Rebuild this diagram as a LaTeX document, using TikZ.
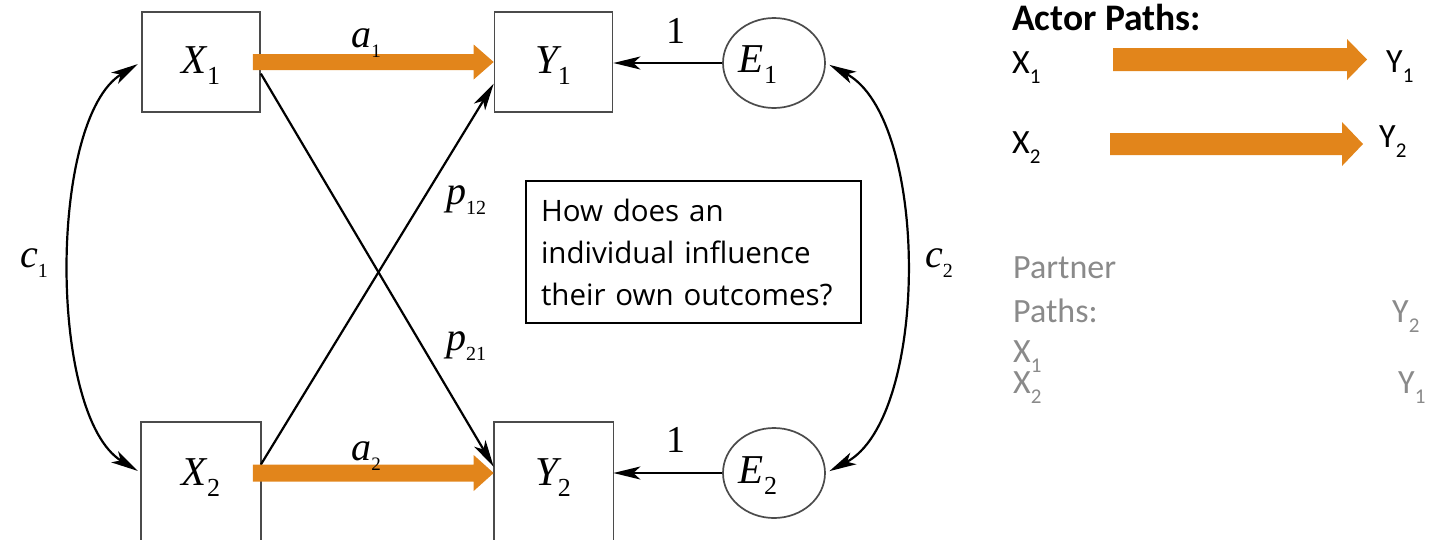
\documentclass[tikz,border=0pt]{standalone}
\usepackage{fontspec}
\setmainfont{Liberation Serif}
\newfontfamily\boxfont{Open Sans}
\newfontfamily\panelfont{Carlito}
\usetikzlibrary{arrows.meta,calc,shapes.geometric}

\definecolor{actor}{RGB}{226,133,27}
\definecolor{partner}{RGB}{138,138,138}
\definecolor{frame}{RGB}{75,75,75}

% italic variable with an upright, lowered index: size, index size, letter, index
\newcommand\sv[4]{{\fontsize{#1}{#1}\selectfont\itshape #3\raisebox{-0.27em}{\fontsize{#2}{#2}\selectfont\upshape #4}}}
% panel variable with a lowered index in the current font: letter, index size, index
\newcommand\pv[3]{#1\raisebox{-0.3em}{\fontsize{#2}{#2}\selectfont #3}}
% broad horizontal arrow: from, to, half shaft, half head, head length, colour
\newcommand\fatarrow[6]{%
  \fill[#6] let \p1=(#1), \p2=(#2) in
    (\x1,\y1+#3) -- (\x2-#5,\y1+#3) -- (\x2-#5,\y1+#4) -- (\x2,\y1)
    -- (\x2-#5,\y1-#4) -- (\x2-#5,\y1-#3) -- (\x1,\y1-#3) -- cycle;}

\tikzset{
  var/.style={draw=frame, line width=1.7pt, minimum width=118pt, minimum height=100pt, inner sep=0pt},
  err/.style={draw=frame, line width=1.7pt, ellipse, minimum width=102pt, minimum height=90pt, inner sep=0pt},
  conn/.style={line width=2.2pt, -{Stealth[length=27pt,width=13pt,inset=7pt]}},
  both/.style={line width=2.2pt, {Stealth[length=27pt,width=13pt,inset=7pt]}-{Stealth[length=27pt,width=13pt,inset=7pt]}, shorten <=4pt, shorten >=4pt},
  coef/.style={inner sep=0pt, anchor=base},
  qbox/.style={draw=black, line width=1.5pt, inner xsep=15pt, inner ysep=0pt, text width=305pt, minimum height=142pt, align=left,
    font={\fontsize{29.5}{42}\selectfont\boxfont}},
  actorhead/.style={inner sep=0pt, anchor=base west, font={\fontsize{37.5}{37.5}\selectfont\panelfont\bfseries}},
  actortext/.style={inner sep=0pt, anchor=base west, font={\fontsize{34}{34}\selectfont\panelfont}},
  partnertext/.style={inner sep=0pt, anchor=base west, text=partner, font={\fontsize{34}{34}\selectfont\panelfont}},
}

\begin{document}
\begin{tikzpicture}[x=1pt,y=-1pt]
\useasboundingbox (0,0) rectangle (1445,539);
\clip (0,0) rectangle (1445,539);

% observed variables
\node[var] (X1) at (201,62) {};
\node[var] (Y1) at (553.5,62) {};
\node[var, draw=none] (X2) at (201,473) {};
\node[var, draw=none] (Y2) at (553.5,473) {};
\draw[draw=frame, line width=1.7pt] (X2.north west) rectangle ([yshift=-60pt]X2.south east);
\draw[draw=frame, line width=1.7pt] (Y2.north west) rectangle ([yshift=-60pt]Y2.south east);
\node[coef] (tX1) at (201,73) {\sv{41}{26}{X}{1}};
\node[coef] (tY1) at (553,73) {\sv{41}{26}{Y}{1}};
\node[coef] (tX2) at (201,485) {\sv{41}{26}{X}{2}};
\node[coef] (tY2) at (553,485) {\sv{41}{26}{Y}{2}};

% error variables
\node[err] (E1) at (774,63) {};
\node[err] (E2) at (774,473) {};
\node[coef] (tE1) at (758,72) {\sv{41}{26}{E}{1}};
\node[coef] (tE2) at (758,483) {\sv{41}{26}{E}{2}};

% partner paths
\draw[conn] (X1.-11) -- (Y2.174);
\draw[conn] (X2.8) -- (Y1.200);

% actor paths
\fatarrow{[xshift=-8pt]X1.east}{Y1.west}{8pt}{17.5pt}{20pt}{actor}
\fatarrow{[xshift=-8pt]X2.east}{Y2.west}{8.5pt}{18pt}{20pt}{actor}

% error loadings
\draw[conn] (E1.west) -- (E1.west -| Y1.east);
\draw[conn] (E2.west) -- (E2.west -| Y2.east);

% covariances
\draw[both] (X1.west) .. controls +(-93,57) and +(-93,-57) .. (X2.west);
\draw[both] (E1.east) .. controls +(104,55) and +(104,-55) .. (E2.east);

% coefficients
\node[coef] (la1) at (366,47) {\sv{40}{19}{a}{1}};
\node[coef] (la2) at (366,460) {\sv{40}{19}{a}{2}};
\node[coef] (lp12) at (466,204) {\sv{40}{20}{p}{12}};
\node[coef] (lp21) at (466,350) {\sv{40}{20}{p}{21}};
\node[coef] (lc1) at (34,267) {\sv{40}{20}{c}{1}};
\node[coef] (lc2) at (939,267) {\sv{40}{20}{c}{2}};
\node[coef, font={\fontsize{38}{38}\selectfont}] (l1a) at (676,43) {1};
\node[coef, font={\fontsize{38}{38}\selectfont}] (l1b) at (676,452) {1};

% question
\node[qbox] (question) at (693.5,252) {How does an\\individual influence\\their own outcomes?};

% legend: actor paths
\node[actorhead] (actortitle) at (1012,30) {Actor Paths:};
\node[actortext] (ax1) at (1012,73) {\pv{X}{21}{1}};
\node[actortext] (ay1) at (1386,72) {\pv{Y}{21}{1}};
\node[actortext] (ax2) at (1012,153) {\pv{X}{21}{2}};
\node[actortext] (ay2) at (1379,147) {\pv{Y}{21}{2}};
\coordinate (a1s) at (1113,59.5);
\coordinate (a1e) at (1367,59.5);
\coordinate (a2s) at (1110,144);
\coordinate (a2e) at (1363,144);
\fatarrow{a1s}{a1e}{11.5pt}{20.5pt}{20pt}{actor}
\fatarrow{a2s}{a2e}{11pt}{22pt}{21pt}{actor}

% legend: partner paths
\node[partnertext] (ptitle1) at (1013,278) {Partner};
\node[partnertext] (ptitle2) at (1013,322) {Paths:};
\node[partnertext] (px1) at (1013,362) {\pv{X}{21}{1}};
\node[partnertext] (px2) at (1013,393) {\pv{X}{21}{2}};
\node[partnertext] (py2) at (1392,322) {\pv{Y}{21}{2}};
\node[partnertext] (py1) at (1398,393) {\pv{Y}{21}{1}};
\end{tikzpicture}
\end{document}
